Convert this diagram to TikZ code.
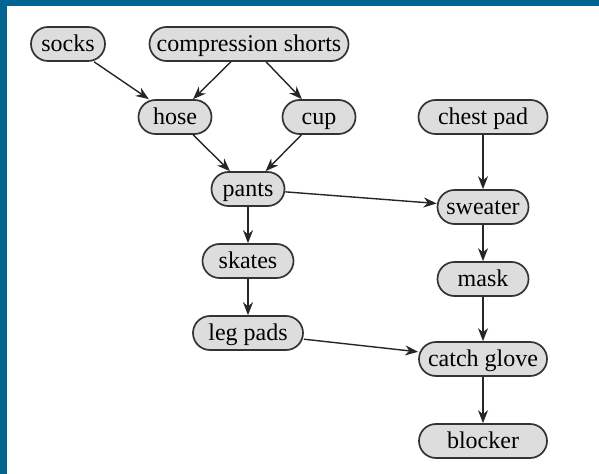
\documentclass[tikz,border=0pt]{standalone}
\usepackage{fontspec}
\setmainfont{Liberation Serif}
\usetikzlibrary{arrows.meta}
\definecolor{frame}{RGB}{0,102,145}
\definecolor{padgray}{RGB}{221,221,221}

\begin{document}
\begin{tikzpicture}[x=1bp,y=-1bp,
    gear/.style={draw=black!80,line width=1.7bp,fill=padgray,rounded corners=17bp,
      minimum height=34bp,inner sep=3bp,text height=18bp,text depth=3bp,
      font=\fontsize{24bp}{28bp}\selectfont},
    dress/.style={-{Stealth[length=13bp,width=10bp]},line width=1.4bp,black!85}]
    \useasboundingbox (0,0) rectangle (599,474);
    \fill[white] (0,0) rectangle (599,474);
    \fill[frame] (0,0) rectangle (7,474);
    \fill[frame] (0,0) rectangle (599,6);
    % goalie gear, left to right and top to bottom
    \foreach \n/\x/\y/\w/\t in {
      socks/68/44/74/socks,
      shorts/249/44/199/compression shorts,
      hose/175/117/73/hose,
      cup/319/117/73/cup,
      chestpad/483/117/129/chest pad,
      pants/248/189/73/pants,
      sweater/483/207/91/sweater,
      skates/248/261/91/skates,
      mask/483/279/91/mask,
      legpads/248/333/110/leg pads,
      glove/483/359/128/catch glove,
      blocker/483/441/128/blocker}
    {
      \node[gear,minimum width=\w bp] (\n) at (\x,\y) {\t};
    }
    % what goes on before what
    \foreach \a/\b in {socks/hose, shorts/hose, shorts/cup, hose/pants, cup/pants,
      pants/skates, pants/sweater, skates/legpads, legpads/glove,
      chestpad/sweater, sweater/mask, mask/glove, glove/blocker}
    {
      \draw[dress] (\a) -- (\b);
    }
  \end{tikzpicture}
\end{document}
